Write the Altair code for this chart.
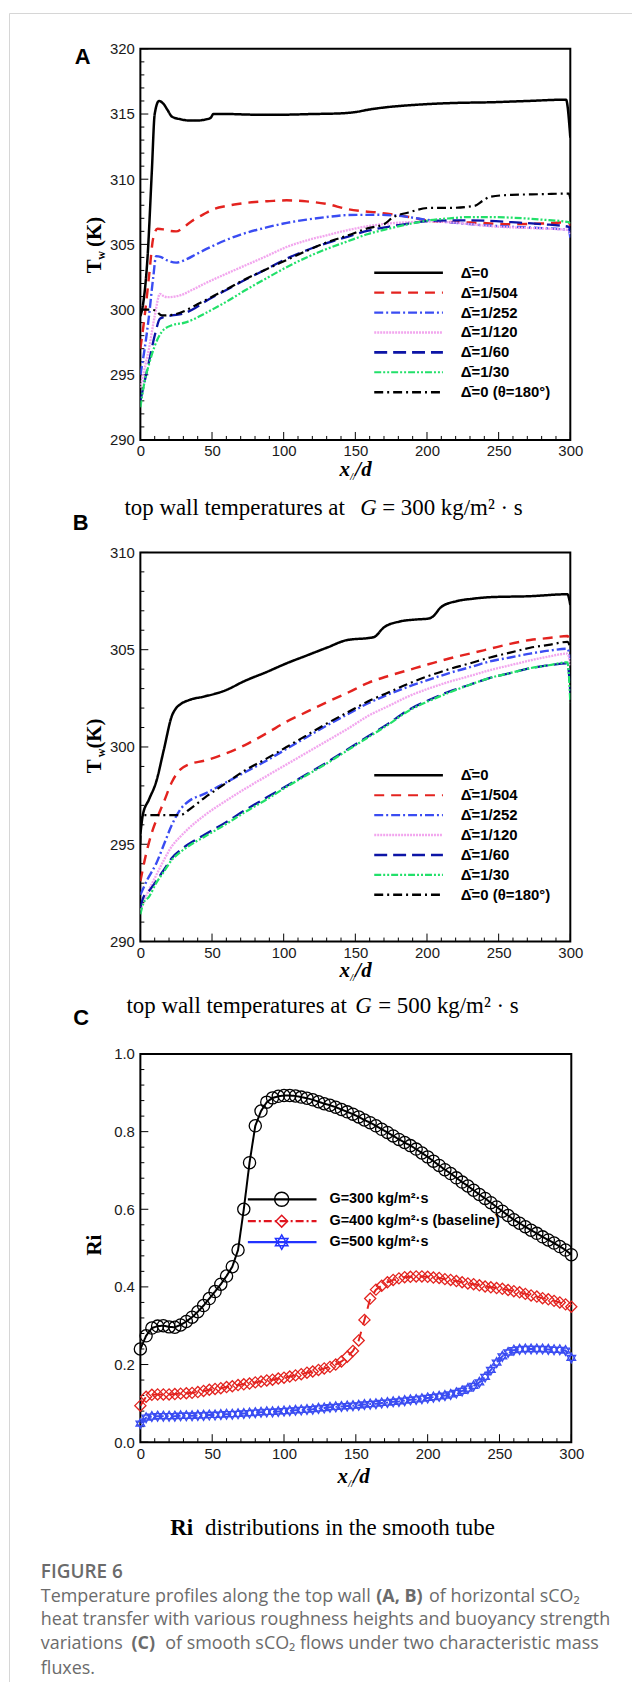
import altair as alt
import pandas as pd

# ---------------- Panel A data (x/d, Tw in K) ----------------
A_NAMES = ["Δ\u0304=0", "Δ\u0304=1/504", "Δ\u0304=1/252", "Δ\u0304=1/120", "Δ\u0304=1/60", "Δ\u0304=1/30", "Δ\u0304=0 (θ=180°)"]
A0_X = [0, 2, 5, 8, 10, 13, 16, 19, 22, 28, 34, 40, 45, 49, 51, 60, 80, 100, 120, 140, 150, 160, 170, 185, 202, 220, 244, 270, 297, 300]
A0_T = [299.5, 300.5, 304.0, 310.6, 315.0, 316.0, 315.8, 315.3, 314.8, 314.6, 314.5, 314.5, 314.57, 314.7, 315.0, 315.0, 314.95, 314.95, 315.0, 315.05, 315.15, 315.35, 315.5, 315.65, 315.77, 315.85, 315.9, 316.0, 316.1, 313.2]
A1_X = [0, 3, 6, 9, 12, 16, 20, 25, 30, 36, 44, 51, 60, 68, 80, 90, 102, 116, 130, 145, 155, 165, 176, 190, 202, 215, 230, 259, 280, 299, 300]
A1_T = [297.0, 299.5, 302.5, 305.5, 306.2, 306.15, 306.05, 306.0, 306.3, 306.8, 307.3, 307.7, 307.95, 308.1, 308.25, 308.32, 308.38, 308.3, 308.1, 307.7, 307.55, 307.45, 307.3, 307.05, 306.8, 306.72, 306.68, 306.55, 306.6, 306.7, 306.4]
A2_X = [0, 3, 6, 9, 11, 14, 18, 25, 32, 39, 50, 59, 70, 88, 100, 116, 130, 145, 165, 180, 187, 202, 215, 230, 259, 280, 299, 300]
A2_T = [295.0, 297.0, 299.5, 302.5, 304.1, 304.05, 303.8, 303.6, 303.85, 304.25, 304.85, 305.3, 305.75, 306.3, 306.6, 306.9, 307.1, 307.25, 307.27, 307.2, 307.1, 306.85, 306.7, 306.55, 306.35, 306.25, 306.1, 305.5]
A3_X = [0, 3, 6, 10, 13.7, 16, 19, 24, 28, 36, 45, 60, 73.5, 88, 102, 116, 130, 145, 159, 173, 187, 200, 216, 230, 244, 260, 273, 299, 300]
A3_T = [294.0, 295.5, 297.0, 299.5, 301.2, 301.05, 300.95, 301.0, 301.1, 301.5, 302.0, 302.75, 303.4, 304.1, 304.8, 305.3, 305.7, 306.1, 306.4, 306.6, 306.7, 306.75, 306.7, 306.55, 306.4, 306.3, 306.25, 306.1, 305.8]
A4_X = [0, 3, 6, 10, 13.7, 17, 22, 31, 38, 45, 60, 73.5, 88, 102, 116, 130, 145, 159, 173, 187, 202, 216, 230, 244, 259, 280, 299, 300]
A4_T = [293.0, 294.5, 296.0, 298.0, 299.3, 299.45, 299.55, 299.73, 300.1, 300.6, 301.5, 302.3, 303.1, 303.9, 304.55, 305.1, 305.6, 306.05, 306.35, 306.6, 306.8, 306.85, 306.85, 306.8, 306.7, 306.55, 306.35, 306.0]
A5_X = [0, 3, 6, 10, 15, 22, 31, 38, 45, 60, 73.5, 88, 102, 116, 130, 145, 159, 173, 187, 202, 216, 230, 244, 259, 280, 299, 300]
A5_T = [292.5, 294.5, 295.8, 297.2, 298.3, 298.8, 299.0, 299.3, 299.7, 300.6, 301.5, 302.4, 303.25, 304.0, 304.65, 305.25, 305.8, 306.2, 306.55, 306.85, 307.0, 307.1, 307.1, 307.05, 306.9, 306.7, 306.6]
A6_X = [0, 5, 10, 15, 22, 31, 38, 45, 60, 73.5, 88, 102, 116, 130, 145, 159, 170, 176, 187, 202, 216, 233, 239, 244, 259, 280, 299, 300]
A6_T = [300.0, 300.0, 299.95, 299.55, 299.6, 299.9, 300.3, 300.7, 301.55, 302.35, 303.1, 303.8, 304.5, 305.15, 305.7, 306.25, 306.55, 307.05, 307.45, 307.8, 307.8, 307.95, 308.35, 308.65, 308.8, 308.85, 308.9, 308.5]

# ---------------- Panel B data ----------------
B0_X = [0, 1.7, 6, 11, 16.5, 22, 25, 28, 33.5, 45, 59, 73, 88, 102, 116, 130, 144.5, 159, 163, 170, 181, 192, 201, 204, 210, 221, 232, 244, 272, 298, 300]
B0_T = [295.5, 296.5, 297.3, 298.2, 299.9, 301.6, 302.0, 302.2, 302.4, 302.6, 302.9, 303.4, 303.85, 304.3, 304.7, 305.1, 305.5, 305.6, 305.65, 306.15, 306.45, 306.55, 306.6, 306.7, 307.2, 307.5, 307.62, 307.7, 307.75, 307.85, 307.3]
B1_X = [0, 4, 8, 12, 16.5, 22, 28, 33.5, 45, 59, 73, 88, 102, 116, 130, 145, 159, 173, 187, 201, 215.5, 230, 244, 258, 272, 285, 298, 300]
B1_T = [293.1, 294.5, 295.6, 296.4, 297.2, 298.2, 298.85, 299.1, 299.3, 299.65, 300.1, 300.7, 301.3, 301.8, 302.3, 302.8, 303.3, 303.65, 303.95, 304.25, 304.55, 304.8, 305.05, 305.3, 305.5, 305.6, 305.7, 305.4]
B2_X = [0, 5, 11, 16.5, 22, 28, 33.5, 45, 59, 73, 88, 102, 116, 130, 145, 159, 173, 187, 201, 215.5, 230, 244, 258, 272, 285, 298, 300]
B2_T = [292.4, 293.2, 294.0, 295.0, 296.0, 296.8, 297.2, 297.6, 298.15, 298.7, 299.3, 299.9, 300.5, 301.1, 301.7, 302.25, 302.7, 303.1, 303.45, 303.8, 304.1, 304.4, 304.6, 304.8, 304.95, 305.05, 304.5]
B3_X = [0, 5, 11, 16.5, 22, 28, 33.5, 45, 59, 73, 88, 102, 116, 130, 145, 159, 173, 187, 201, 215.5, 230, 244, 258, 272, 285, 298, 300]
B3_T = [291.6, 292.5, 293.4, 294.2, 294.9, 295.4, 295.8, 296.5, 297.2, 297.85, 298.5, 299.1, 299.7, 300.3, 300.95, 301.6, 302.1, 302.6, 303.0, 303.35, 303.65, 303.95, 304.2, 304.45, 304.65, 304.8, 304.2]
B4_X = [0, 2.3, 6, 11, 16.5, 22, 28, 33.5, 45, 59, 73, 88, 102, 116, 130, 145, 159, 173, 187, 201, 215.5, 230, 244, 258, 272, 285, 298, 300]
B4_T = [291.75, 292.3, 292.6, 293.1, 293.7, 294.3, 294.7, 295.0, 295.5, 296.1, 296.75, 297.4, 298.0, 298.6, 299.2, 299.9, 300.55, 301.2, 301.9, 302.4, 302.85, 303.2, 303.55, 303.8, 304.05, 304.2, 304.3, 302.8]
B5_X = [0, 2.3, 6, 11, 16.5, 22, 28, 33.5, 45, 59, 73, 88, 102, 116, 130, 145, 159, 173, 187, 201, 215.5, 230, 244, 258, 272, 285, 298, 300]
B5_T = [291.4, 292.0, 292.3, 293.0, 293.6, 294.2, 294.6, 294.9, 295.4, 296.0, 296.65, 297.3, 297.95, 298.55, 299.15, 299.85, 300.5, 301.15, 301.85, 302.35, 302.8, 303.2, 303.55, 303.8, 304.05, 304.2, 304.35, 302.3]
B6_X = [0, 1, 5, 11, 16.5, 22, 28, 33.5, 45, 59, 73, 88, 102, 116, 130, 145, 159, 173, 187, 201, 215.5, 230, 244, 258, 272, 285, 298, 300]
B6_T = [295.0, 296.5, 296.5, 296.5, 296.5, 296.5, 296.5, 296.75, 297.4, 298.1, 298.8, 299.4, 300.0, 300.6, 301.2, 301.8, 302.35, 302.8, 303.25, 303.65, 304.0, 304.3, 304.6, 304.85, 305.1, 305.25, 305.4, 305.1]

# ---------------- Panel C data (Ri) ----------------
C_NAMES = ["G=300 kg/m²·s", "G=400 kg/m²·s (baseline)", "G=500 kg/m²·s"]
C_X = [0, 4, 8, 12, 16, 20, 24, 28, 32, 36, 40, 44, 48, 52, 56, 60, 64, 68, 72, 76,
       80, 84, 88, 92, 96, 100, 104, 108, 112, 116, 120, 124, 128, 132, 136, 140, 144, 148, 152, 156,
       160, 164, 168, 172, 176, 180, 184, 188, 192, 196, 200, 204, 208, 212, 216, 220, 224, 228, 232, 236,
       240, 244, 248, 252, 256, 260, 264, 268, 272, 276, 280, 284, 288, 292, 296, 300]
C300 = [0.240, 0.274, 0.294, 0.299, 0.300, 0.297, 0.296, 0.302, 0.311, 0.322, 0.336, 0.352, 0.370, 0.388, 0.407, 0.428, 0.452, 0.495, 0.600, 0.720,
        0.815, 0.853, 0.876, 0.887, 0.891, 0.893, 0.893, 0.892, 0.889, 0.886, 0.882, 0.877, 0.872, 0.868, 0.863, 0.857, 0.851, 0.845, 0.838, 0.830,
        0.823, 0.815, 0.806, 0.798, 0.789, 0.780, 0.772, 0.764, 0.755, 0.745, 0.735, 0.724, 0.713, 0.702, 0.692, 0.681, 0.670, 0.660, 0.649, 0.638,
        0.628, 0.617, 0.606, 0.595, 0.584, 0.573, 0.564, 0.555, 0.546, 0.538, 0.529, 0.521, 0.513, 0.504, 0.495, 0.483]
C400 = [0.094, 0.117, 0.122, 0.123, 0.123, 0.123, 0.124, 0.125, 0.126, 0.127, 0.129, 0.132, 0.135, 0.137, 0.139, 0.142, 0.144, 0.147, 0.149, 0.151,
        0.154, 0.156, 0.159, 0.161, 0.164, 0.166, 0.169, 0.172, 0.175, 0.179, 0.182, 0.186, 0.190, 0.194, 0.200, 0.208, 0.220, 0.235, 0.262, 0.315,
        0.370, 0.393, 0.403, 0.412, 0.418, 0.422, 0.425, 0.426, 0.427, 0.427, 0.426, 0.424, 0.423, 0.420, 0.418, 0.415, 0.412, 0.409, 0.407, 0.404,
        0.401, 0.399, 0.397, 0.395, 0.392, 0.389, 0.386, 0.382, 0.378, 0.375, 0.371, 0.368, 0.364, 0.360, 0.355, 0.349]
C500 = [0.048, 0.063, 0.066, 0.067, 0.067, 0.067, 0.067, 0.068, 0.068, 0.068, 0.069, 0.069, 0.070, 0.070, 0.071, 0.072, 0.072, 0.073, 0.074, 0.075,
        0.076, 0.077, 0.078, 0.078, 0.079, 0.080, 0.081, 0.082, 0.083, 0.084, 0.085, 0.087, 0.088, 0.090, 0.091, 0.092, 0.093, 0.094, 0.095, 0.097,
        0.098, 0.099, 0.101, 0.102, 0.104, 0.105, 0.107, 0.109, 0.110, 0.112, 0.114, 0.116, 0.118, 0.120, 0.123, 0.127, 0.132, 0.138, 0.145, 0.154,
        0.168, 0.186, 0.205, 0.221, 0.231, 0.237, 0.239, 0.240, 0.240, 0.240, 0.240, 0.239, 0.238, 0.238, 0.236, 0.217]

# ---------------- ticks ----------------
X_MAJOR = [0, 50, 100, 150, 200, 250, 300]
X_MINOR = [10, 20, 30, 40, 60, 70, 80, 90, 110, 120, 130, 140, 160, 170, 180, 190, 210, 220, 230, 240, 260, 270, 280, 290]
YA_MAJOR = [290, 295, 300, 305, 310, 315, 320]
YA_MINOR = [291, 292, 293, 294, 296, 297, 298, 299, 301, 302, 303, 304, 306, 307, 308, 309, 311, 312, 313, 314, 316, 317, 318, 319]
YB_MAJOR = [290, 295, 300, 305, 310]
YB_MINOR = [291, 292, 293, 294, 296, 297, 298, 299, 301, 302, 303, 304, 306, 307, 308, 309]
YC_MAJOR = [0.0, 0.2, 0.4, 0.6, 0.8, 1.0]
YC_MINOR = [0.04, 0.08, 0.12, 0.16, 0.24, 0.28, 0.32, 0.36, 0.44, 0.48, 0.52, 0.56, 0.64, 0.68, 0.72, 0.76, 0.84, 0.88, 0.92, 0.96]

# ---------------- styles ----------------
T_COLORS = ["#000000", "#e3231f", "#3a4cf2", "#f2a6ee", "#0c14a6", "#22e06a", "#000000"]
T_DASHES = [[1, 0], [10, 7], [9, 3, 2, 3], [2, 1], [13, 6], [7, 2, 2, 2, 2, 2], [9, 4, 2, 4]]
T_WIDTHS = [2.5, 2.2, 2.2, 2.5, 2.6, 2.2, 2.4]
C_COLORS = ["#000000", "#e0141e", "#2233ff"]
C_DASHES = [[1, 0], [8, 3, 2, 3], [1, 0]]
HEXAGRAM = "M0,-1L0.866,0.5L-0.866,0.5Z M0,1L0.866,-0.5L-0.866,-0.5Z"
C_SHAPES = ["circle", "diamond", HEXAGRAM]
C_SIZES = [150, 100, 160]

SERIF = "Liberation Serif"
SANS = "Liberation Sans"
CAP_FONT = "Open Sans"
GREY = "#6b6b6b"

W = 432
WC = 433
HA, HB, HC = 393, 391, 390


def long_df(names, xs_list, ys_list):
    rows = []
    for k, (n, xs, ys) in enumerate(zip(names, xs_list, ys_list)):
        for i, (a, b) in enumerate(zip(xs, ys)):
            rows.append({"series": n, "x": a, "y": b, "i": i, "k": k})
    return pd.DataFrame(rows)


def txt(s, x, y, size, font=SERIF, weight="normal", style="normal", align="left",
        baseline="alphabetic", color="black", angle=0):
    mk = dict(align=align, baseline=baseline, font=font, fontSize=size, fontWeight=weight,
              fontStyle=style, color=color)
    if angle:
        mk["angle"] = angle
    return alt.Chart(pd.DataFrame({"t": [s]})).mark_text(**mk).encode(
        text="t:N", x=alt.value(x), y=alt.value(y))


def tick_layers(xsc, ysc, ax, ay, xmaj, xmin, ymaj, ymin, h):
    out = []
    for vals, ln in ((xmaj, 8), (xmin, 4)):
        out.append(alt.Chart(pd.DataFrame({"x": vals})).mark_rule(color="black", strokeWidth=1).encode(
            x=alt.X("x:Q", scale=xsc, axis=ax), y=alt.value(h), y2=alt.value(h - ln)))
    for vals, ln in ((ymaj, 8), (ymin, 4)):
        out.append(alt.Chart(pd.DataFrame({"y": vals})).mark_rule(color="black", strokeWidth=1).encode(
            y=alt.Y("y:Q", scale=ysc, axis=ay), x=alt.value(0), x2=alt.value(ln)))
    return out


def axis_x():
    return alt.Axis(values=X_MAJOR, title=None, labelPadding=4, ticks=False, domain=False, grid=False,
                    labelFont=SANS, labelFontSize=15, labelColor="#1a1a1a", labelFlush=False)


def axis_y(vals, fmt=None):
    kw = dict(values=vals, title=None, labelPadding=6, ticks=False, domain=False, grid=False,
              labelFont=SANS, labelFontSize=15, labelColor="#1a1a1a", labelFlush=False)
    if fmt:
        kw["format"] = fmt
    return alt.Axis(**kw)


def t_legend(h_rows_y):
    out = []
    for k, n in enumerate(A_NAMES):
        yy = h_rows_y + 20 * k
        out.append(alt.Chart(pd.DataFrame({"s": [n]})).mark_rule(
            color=T_COLORS[k], strokeDash=T_DASHES[k], strokeWidth=T_WIDTHS[k]).encode(
            x=alt.value(235), x2=alt.value(304), y=alt.value(yy)))
        out.append(txt(n, 322, yy, 15, font=SANS, weight="bold", baseline="middle"))
    return out


def xtitle(base, x0=210.5):
    return [txt("x", x0, base, 21, weight="bold", style="italic", align="right"),
            txt("//", x0 + 0.5, base + 4, 10, weight="bold", style="italic"),
            txt("/d", x0 + 5.5, base, 21, weight="bold", style="italic")]


def tw_title(yT, yw, yK):
    return [txt("T", -40, yT, 21, weight="bold", align="center", angle=270),
            txt("w", -36, yw, 12, weight="bold", align="center", angle=270),
            txt("(K)", -40, yK, 21, weight="bold", align="center", angle=270)]


def temp_panel(xs_list, ys_list, ymin, ymax, ymaj, yminr, h):
    df = long_df(A_NAMES, xs_list, ys_list)
    xsc = alt.Scale(domain=[0, 300], nice=False, zero=False)
    ysc = alt.Scale(domain=[ymin, ymax], nice=False, zero=False)
    ax, ay = axis_x(), axis_y(ymaj)
    lines = alt.Chart(df).mark_line(clip=True, interpolate="monotone").encode(
        x=alt.X("x:Q", scale=xsc, axis=ax),
        y=alt.Y("y:Q", scale=ysc, axis=ay),
        color=alt.Color("series:N", scale=alt.Scale(domain=A_NAMES, range=T_COLORS), legend=None),
        strokeDash=alt.StrokeDash("series:N", scale=alt.Scale(domain=A_NAMES, range=T_DASHES), legend=None),
        strokeWidth=alt.StrokeWidth("series:N", scale=alt.Scale(domain=A_NAMES, range=T_WIDTHS), legend=None),
        order="i:Q",
    )
    return lines, tick_layers(xsc, ysc, ax, ay, X_MAJOR, X_MINOR, ymaj, yminr, h)


# ---------- Panel A ----------
linesA, ticksA = temp_panel([A0_X, A1_X, A2_X, A3_X, A4_X, A5_X, A6_X],
                            [A0_T, A1_T, A2_T, A3_T, A4_T, A5_T, A6_T], 290, 320, YA_MAJOR, YA_MINOR, HA)
borderV = alt.Chart(pd.DataFrame({"s": [0]})).mark_rule(color="#d6d6d6", strokeWidth=1).encode(
    x=alt.value(-131.5), y=alt.value(-35.5), y2=alt.value(1641))
borderH = alt.Chart(pd.DataFrame({"s": [0]})).mark_rule(color="#d6d6d6", strokeWidth=1).encode(
    y=alt.value(-35.5), x=alt.value(-131.5), x2=alt.value(494))
panelA = alt.layer(
    *ticksA, linesA, *t_legend(225), borderV, borderH,
    txt("A", -58, 15, 22, font=SANS, weight="bold", align="center"),
    *tw_title(218.5, 207.5, 184),
    *xtitle(429),
    txt("top wall temperatures at", -16, 468, 23),
    txt("G", 221, 468, 23, style="italic"),
    txt("= 300  kg/m² · s", 243, 468, 23),
).properties(width=W, height=HA)

# ---------- Panel B ----------
linesB, ticksB = temp_panel([B0_X, B1_X, B2_X, B3_X, B4_X, B5_X, B6_X],
                            [B0_T, B1_T, B2_T, B3_T, B4_T, B5_T, B6_T], 290, 310, YB_MAJOR, YB_MINOR, HB)
panelB = alt.layer(
    *ticksB, linesB, *t_legend(224),
    txt("B", -60, -23, 22, font=SANS, weight="bold", align="center"),
    *tw_title(215, 201.5, 182),
    *xtitle(427),
    txt("top wall temperatures at", -14, 463, 23),
    txt("G", 216, 463, 23, style="italic"),
    txt("= 500  kg/m² · s", 239, 463, 23),
).properties(width=W, height=HB)

# ---------- Panel C ----------
dfC = long_df(C_NAMES, [C_X, C_X, C_X], [C300, C400, C500])
xscC = alt.Scale(domain=[0, 300], nice=False, zero=False)
yscC = alt.Scale(domain=[0, 1], nice=False, zero=False)
axC, ayC = axis_x(), axis_y(YC_MAJOR, ".1f")
linesC = alt.Chart(dfC).mark_line(clip=True).encode(
    x=alt.X("x:Q", scale=xscC, axis=axC),
    y=alt.Y("y:Q", scale=yscC, axis=ayC),
    color=alt.Color("series:N", scale=alt.Scale(domain=C_NAMES, range=C_COLORS), legend=None),
    strokeDash=alt.StrokeDash("series:N", scale=alt.Scale(domain=C_NAMES, range=C_DASHES), legend=None),
    order="i:Q",
)
pointsC = alt.Chart(dfC).mark_point(filled=False, strokeWidth=1.3, opacity=1).encode(
    x=alt.X("x:Q", scale=xscC, axis=axC),
    y=alt.Y("y:Q", scale=yscC, axis=ayC),
    color=alt.Color("series:N", scale=alt.Scale(domain=C_NAMES, range=C_COLORS), legend=None),
    shape=alt.Shape("series:N", scale=alt.Scale(domain=C_NAMES, range=C_SHAPES), legend=None),
    size=alt.Size("series:N", scale=alt.Scale(domain=C_NAMES, range=C_SIZES), legend=None),
)
ticksC = tick_layers(xscC, yscC, axC, ayC, X_MAJOR, X_MINOR, YC_MAJOR, YC_MINOR, HC)

legC = []
for k, n in enumerate(C_NAMES):
    yy = [146, 168, 189][k]
    legC.append(alt.Chart(pd.DataFrame({"s": [n]})).mark_rule(
        color=C_COLORS[k], strokeDash=C_DASHES[k], strokeWidth=2.2).encode(
        x=alt.value(108), x2=alt.value(177), y=alt.value(yy)))
    legC.append(alt.Chart(pd.DataFrame({"s": [n]})).mark_point(
        filled=False, shape=C_SHAPES[k], size=[200, 140, 210][k], color=C_COLORS[k], strokeWidth=1.5, opacity=1).encode(
        x=alt.value(142), y=alt.value(yy)))
    legC.append(txt(n, 190, yy, 14.5, font=SANS, weight="bold", baseline="middle"))

CAP = 18
panelC = alt.layer(
    *ticksC, linesC, pointsC, *legC,
    txt("C", -59.5, -29, 22, font=SANS, weight="bold", align="center"),
    txt("Ri", -40, 192, 21, weight="bold", align="center", angle=270),
    *xtitle(431, 208.5),
    txt("Ri", 30, 483, 23, weight="bold"),
    txt("distributions in the smooth tube", 65, 483, 23),
    txt("FIGURE 6", -100, 526, 19, font=CAP_FONT, weight=600, color=GREY),
    txt("Temperature profiles along the top wall", -100, 551, CAP, font=CAP_FONT, color=GREY),
    txt("(A, B)", 237, 551, CAP, font=CAP_FONT, weight="bold", color=GREY),
    txt("of horizontal sCO₂", 290, 551, CAP, font=CAP_FONT, color=GREY),
    txt("heat transfer with various roughness heights and buoyancy strength", -100, 574, CAP, font=CAP_FONT, color=GREY),
    txt("variations", -100, 598, CAP, font=CAP_FONT, color=GREY),
    txt("(C)", -9, 598, CAP, font=CAP_FONT, weight="bold", color=GREY),
    txt("of smooth sCO₂ flows under two characteristic mass", 25, 598, CAP, font=CAP_FONT, color=GREY),
    txt("fluxes.", -100, 623, CAP, font=CAP_FONT, color=GREY),
).properties(width=WC, height=HC)

chart = alt.vconcat(panelA, panelB, panelC, spacing=113, bounds="flush").properties(
    padding={"left": 0, "top": 0, "right": 0, "bottom": 0}
).configure(background="white").configure_view(stroke="black", strokeWidth=2)

chart.save("out.html", embed_options={"renderer": "svg", "actions": False})
